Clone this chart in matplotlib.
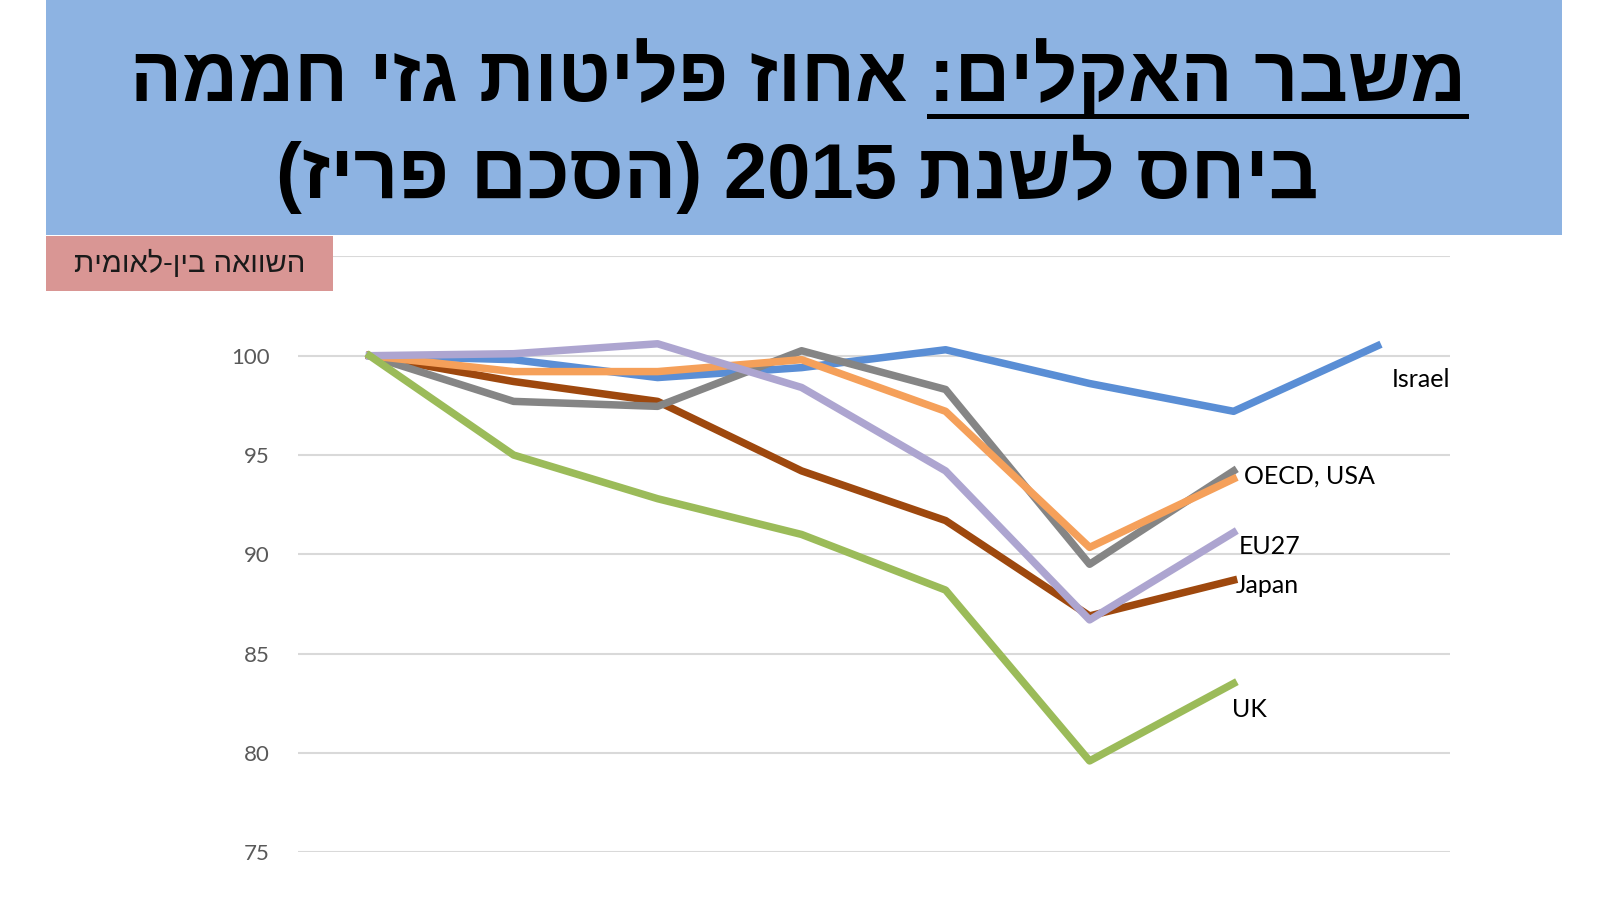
import re
import matplotlib
matplotlib.use("Agg")
import matplotlib.pyplot as plt
from matplotlib.patches import Rectangle
from matplotlib.lines import Line2D

years = [2015, 2016, 2017, 2018, 2019, 2020, 2021, 2022]

israel = [100, 99.8, 98.9, 99.4, 100.3, 98.6, 97.2, 100.5]
japan = [100, 98.7, 97.7, 94.2, 91.7, 86.9, 88.7]
oecd = [100, 97.7, 97.45, 100.25, 98.3, 89.5, 94.2]
usa = [100, 99.2, 99.2, 99.8, 97.2, 90.35, 93.8]
eu27 = [100, 100.1, 100.6, 98.4, 94.2, 86.7, 91.1]
uk = [100, 95.0, 92.8, 91.0, 88.2, 79.6, 83.5]

y_ticks = [75, 80, 85, 90, 95, 100, 105]
# the 105 label sits under the pink tag in the original, so it stays blank
y_labels = ["75", "80", "85", "90", "95", "100", ""]

title_1 = "משבר האקלים: אחוז פליטות גזי חממה"
title_1_under = "משבר האקלים:"
title_2 = "ביחס לשנת 2015 (הסכם פריז)"
box_label = "השוואה בין-לאומית"


def rtl(s):
    # matplotlib has no bidi, so flip to visual order
    out = s[::-1]
    out = re.sub(r"\d+", lambda m: m.group(0)[::-1], out)
    return out.translate(str.maketrans("()", ")("))


heb_fonts = ["Liberation Sans", "DejaVu Sans"]
lat_fonts = ["Lato", "DejaVu Sans"]

fig = plt.figure(figsize=(16, 8.98), dpi=100)
fig.patch.set_facecolor("white")

# banner
fig.patches.append(Rectangle((0.0288, 0.738), 0.9472, 0.262, transform=fig.transFigure,
                             facecolor="#8DB3E2", edgecolor="none", zorder=0))

t1 = fig.text(0.4985, 0.912, rtl(title_1), ha="center", va="center", fontsize=55.5,
              fontweight="bold", family=heb_fonts, color="black")
fig.text(0.4985, 0.806, rtl(title_2), ha="center", va="center", fontsize=56,
         fontweight="bold", family=heb_fonts, color="black")

# underline for the first words of the title
fig.canvas.draw()
r = fig.canvas.get_renderer()
bb = t1.get_window_extent(r)
probe = fig.text(0, 0, rtl(title_1_under), fontsize=55.5, fontweight="bold", family=heb_fonts)
w = probe.get_window_extent(r).width
probe.remove()
W, H = fig.get_size_inches() * fig.dpi
fig.lines.append(Line2D([(bb.x1 - w) / W, bb.x1 / W], [0.871, 0.871], transform=fig.transFigure,
                        color="black", linewidth=3.6, zorder=3))

# pink tag
fig.patches.append(Rectangle((0.0288, 0.676), 0.1794, 0.0612, transform=fig.transFigure,
                             facecolor="#D99694", edgecolor="none", zorder=5))
fig.text(0.1185, 0.706, rtl(box_label), ha="center", va="center", fontsize=21,
         family=heb_fonts, color="#1a1a1a", zorder=6)

ax = fig.add_axes([0.186, 0.0509, 0.72, 0.6636])
x = list(range(len(years)))

lw = 5.4
ax.plot(x, israel, color="#5A8ED5", lw=lw, zorder=3)
ax.plot(x[:len(japan)], japan, color="#9E480E", lw=lw, zorder=3)
ax.plot(x[:len(oecd)], oecd, color="#858585", lw=lw, zorder=3)
ax.plot(x[:len(usa)], usa, color="#F5A05A", lw=lw, zorder=3)
ax.plot(x[:len(eu27)], eu27, color="#ADA5D0", lw=lw, zorder=3)
ax.plot(x[:len(uk)], uk, color="#9BBB59", lw=lw, zorder=3)

lab = dict(textcoords="offset pixels", ha="left", va="center", fontsize=18,
           family=lat_fonts, color="black", annotation_clip=False)
ax.annotate("Israel", (7, israel[7]), xytext=(14, -34), **lab)
ax.annotate("OECD, USA", (6, oecd[6]), xytext=(10, -5), **lab)
ax.annotate("EU27", (6, eu27[6]), xytext=(5, -14), **lab)
ax.annotate("Japan", (6, japan[6]), xytext=(2, -5), **lab)
ax.annotate("UK", (6, uk[6]), xytext=(-2, -26), **lab)

ax.set_xlim(-0.5, len(years) - 0.5)
ax.set_ylim(75, 105)
ax.set_yticks(y_ticks, y_labels)
ax.set_xticks([])
ax.yaxis.grid(True, color="#D9D9D9", linewidth=1.5)
ax.set_axisbelow(True)
for s in ax.spines.values():
    s.set_visible(False)
ax.tick_params(axis="y", length=0, pad=20, labelsize=16, labelcolor="#595959")
for t in ax.get_yticklabels():
    t.set_family(lat_fonts)

fig.savefig("out.png", dpi=100)
